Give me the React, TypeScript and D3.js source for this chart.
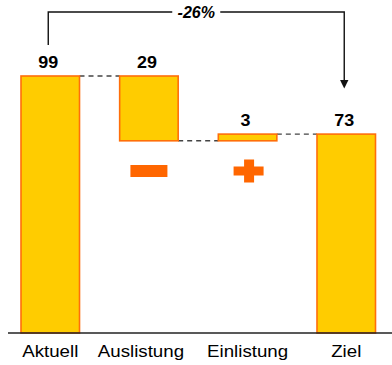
import React from "react";
import * as d3 from "d3";

// Waterfall: start value, removal, addition, target value
const categories = ["Aktuell", "Auslistung", "Einlistung", "Ziel"];
const steps = [99, -29, 3, 73];
const kinds = ["total", "delta", "delta", "total"];
const valueLabels = ["99", "29", "3", "73"];
const changeLabel = "-26%";

const W = 392;
const H = 365;
const BAR_FILL = "#FFCC00";
const BAR_STROKE = "#FF6E0A";
const SIGN = "#FF6600";
const FONT = "'Liberation Sans', Arial, sans-serif";

type Seg = { cat: string; lo: number; hi: number; kind: string; label: string; delta: number };

function buildSegments(): Seg[] {
  let run = 0;
  return categories.map((cat, i) => {
    const v = steps[i];
    if (kinds[i] === "total") {
      run = v;
      return { cat, lo: 0, hi: v, kind: "total", label: valueLabels[i], delta: v };
    }
    const start = run;
    run = run + v;
    return { cat, lo: Math.min(start, run), hi: Math.max(start, run), kind: "delta", label: valueLabels[i], delta: v };
  });
}

export default function App() {
  const segs = buildSegments();

  const x = d3.scaleBand<string>().domain(categories).range([21, 375.5]).paddingInner(0.407).paddingOuter(0);
  const y = d3.scaleLinear().domain([-16, 99]).range([333, 76]);
  const baseY = y(-16);
  const bw = x.bandwidth();
  const cx = (c: string) => (x(c) as number) + bw / 2;

  // bottom of a bar: totals run down to the axis line
  const bottom = (s: Seg) => (s.kind === "total" ? baseY : y(s.lo));

  // running level after each step, for the dashed connectors
  const levels: number[] = [];
  let run = 0;
  segs.forEach((s, i) => {
    run = kinds[i] === "total" ? steps[i] : run + steps[i];
    levels.push(run);
  });

  const first = categories[0];
  const last = categories[categories.length - 1];
  const bx0 = cx(first) - 2;
  const bx1 = cx(last) - 2;
  const by = 12;
  const textW = 48;
  const midX = (bx0 + bx1) / 2;

  return (
    <svg width={W} height={H} style={{ position: "absolute", left: 0, top: 0, background: "#fff" }}>
      {/* dashed connectors between neighbouring bars */}
      {segs.slice(0, -1).map((s, i) => {
        const nxt = categories[i + 1];
        return (
          <line
            key={"c" + i}
            x1={(x(s.cat) as number) + bw}
            x2={x(nxt) as number}
            y1={y(levels[i])}
            y2={y(levels[i])}
            stroke="#444"
            strokeWidth={1.4}
            strokeDasharray="5,4"
          />
        );
      })}

      {/* bars */}
      {segs.map((s) => (
        <rect
          key={s.cat}
          x={x(s.cat)}
          y={y(s.hi)}
          width={bw}
          height={bottom(s) - y(s.hi)}
          fill={BAR_FILL}
          stroke={BAR_STROKE}
          strokeWidth={1.6}
        />
      ))}

      {/* value labels */}
      {segs.map((s) => (
        <text
          key={"v" + s.cat}
          transform={`translate(${cx(s.cat) - 2},${y(s.hi) - 8}) scale(1.12,1)`}
          textAnchor="middle"
          fontFamily={FONT}
          fontWeight="bold"
          fontSize={16}
          fill="#000"
        >
          {s.label}
        </text>
      ))}

      {/* minus / plus signs under the change bars */}
      {segs.map((s) => {
        if (s.kind !== "delta") return null;
        const c = cx(s.cat);
        const sy = 171;
        if (s.delta < 0) {
          return <rect key={"s" + s.cat} x={c - 18.5} y={sy - 6} width={37} height={12} fill={SIGN} />;
        }
        return (
          <g key={"s" + s.cat} fill={SIGN}>
            <rect x={c - 14} y={sy - 4.5} width={30} height={9} />
            <rect x={c - 3.5} y={sy - 11.5} width={10} height={23} />
          </g>
        );
      })}

      {/* axis line */}
      <line x1={8} x2={W} y1={baseY} y2={baseY} stroke="#222" strokeWidth={1.5} />

      {/* category labels */}
      {categories.map((c) => (
        <text
          key={"l" + c}
          transform={`translate(${cx(c) - (c === "Auslistung" ? 8 : 0)},${baseY + 24}) scale(1.17,1)`}
          textAnchor="middle"
          fontFamily={FONT}
          fontSize={16}
          fill="#000"
        >
          {c}
        </text>
      ))}

      {/* overall change bracket */}
      <path
        d={`M${bx0},45 V${by} H${bx1} V80`}
        fill="none"
        stroke="#111"
        strokeWidth={1.4}
      />
      <path d={`M${bx1 - 4.2},80 L${bx1 + 4.2},80 L${bx1},88.5 Z`} fill="#111" />
      <rect x={midX - textW / 2} y={by - 8} width={textW} height={16} fill="#fff" />
      <text
        x={midX}
        y={by + 6}
        textAnchor="middle"
        fontFamily={FONT}
        fontWeight="bold"
        fontStyle="italic"
        fontSize={16}
        fill="#000"
      >
        {changeLabel}
      </text>
    </svg>
  );
}
